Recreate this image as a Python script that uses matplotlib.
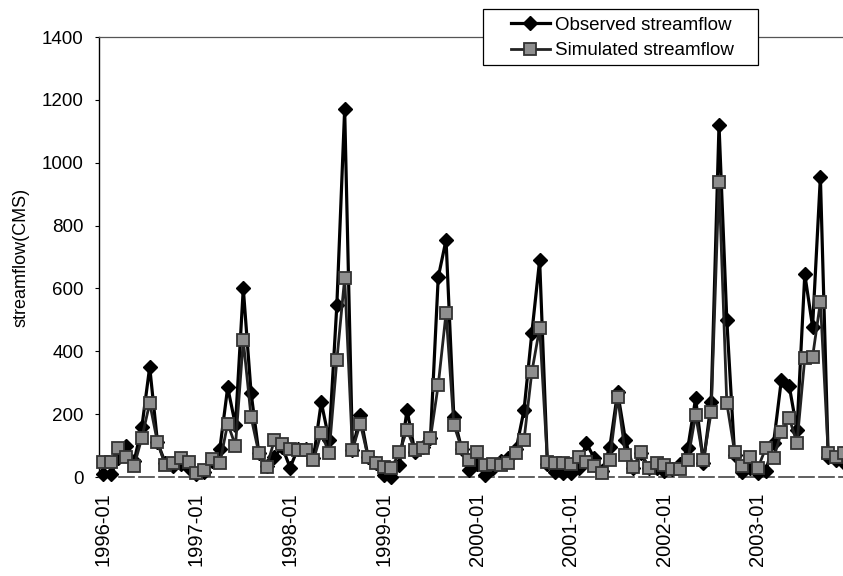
import numpy as np
import matplotlib
matplotlib.use("Agg")
import matplotlib.pyplot as plt
from matplotlib.patches import Rectangle

plt.rcParams['font.family'] = ['Liberation Sans', 'DejaVu Sans']

# monthly values 1996-01 .. 2003-12 (CMS)
observed = [8, 8, 60, 100, 50, 160, 350, 110, 45, 35, 40, 30,
            10, 15, 50, 90, 285, 165, 600, 268, 75, 35, 65, 95,
            30, 90, 90, 60, 238, 118, 548, 1170, 85, 197, 64, 45,
            5, 0, 38, 213, 80, 95, 124, 636, 754, 190, 90, 22,
            40, 5, 30, 50, 60, 90, 213, 458, 690, 40, 15, 12,
            12, 30, 108, 60, 20, 95, 270, 118, 30, 75, 28, 30,
            20, 25, 40, 92, 250, 45, 238, 1120, 500, 70, 15, 30,
            12, 20, 108, 310, 290, 150, 645, 478, 955, 65, 55, 45]
simulated = [48, 48, 92, 65, 35, 125, 235, 110, 38, 45, 60, 48,
             12, 22, 58, 45, 170, 100, 435, 190, 75, 33, 118, 105,
             90, 86, 85, 54, 140, 76, 372, 633, 86, 170, 64, 45,
             32, 28, 78, 150, 86, 92, 124, 293, 522, 165, 92, 54,
             80, 38, 40, 38, 45, 76, 118, 334, 474, 48, 45, 45,
             40, 64, 48, 35, 12, 54, 255, 70, 32, 80, 28, 45,
             38, 25, 25, 54, 197, 54, 207, 940, 235, 80, 35, 65,
             30, 92, 60, 143, 188, 108, 378, 382, 557, 76, 64, 75]
years = ["1996", "1997", "1998", "1999", "2000", "2001", "2002", "2003"]
tick_labels = [y + "-01" for y in years]

x = np.arange(len(observed))
W, H = 843, 576

fig = plt.figure(figsize=(W / 100, H / 100), dpi=100)
ax = fig.add_axes([99 / W, 1 - 477 / H, 1 - 99 / W, 440 / H])

ax.plot(x, observed, color="black", lw=2.3, marker="D", ms=7,
        mfc="black", mec="black", label="Observed streamflow",
        clip_on=False, zorder=3)
ax.plot(x, simulated, color="#222222", lw=2, marker="s", ms=8,
        mfc="#8e8e8e", mec="#333333", mew=1.3, label="Simulated streamflow",
        clip_on=False, zorder=4)

ax.set_xlim(-0.5, 94.9)
ax.set_ylim(0, 1400)
ax.set_yticks(range(0, 1401, 200))
ax.tick_params(axis="y", direction="out", length=3, labelsize=13.5, pad=8)
ax.set_xticks(x[::12])
ax.set_xticklabels(tick_labels, rotation=90, fontsize=14.5)
ax.tick_params(axis="x", length=0, pad=11)

ax.set_ylabel("streamflow(CMS)", fontsize=13, labelpad=9)

ax.spines["right"].set_visible(False)
ax.spines["left"].set_linewidth(1)
ax.spines["top"].set_color("#555555")
ax.spines["top"].set_linewidth(0.9)
ax.spines["bottom"].set_color("#444444")
ax.spines["bottom"].set_linewidth(1.2)
ax.spines["bottom"].set_linestyle((0, (9, 3)))

# legend box drawn separately (wider side margins than matplotlib's frame)
box = Rectangle((483 / W, 1 - 65 / H), 275 / W, 56 / H, transform=fig.transFigure,
                facecolor="white", edgecolor="black", lw=0.9, zorder=5)
fig.patches.append(box)
leg = fig.legend(loc="center", bbox_to_anchor=(622 / W, 1 - 38 / H),
                 fontsize=13.5, frameon=False, handlelength=2.1,
                 handletextpad=0.25, labelspacing=0.45, borderpad=0)
leg.set_zorder(6)

fig.savefig("out.png", dpi=100)
